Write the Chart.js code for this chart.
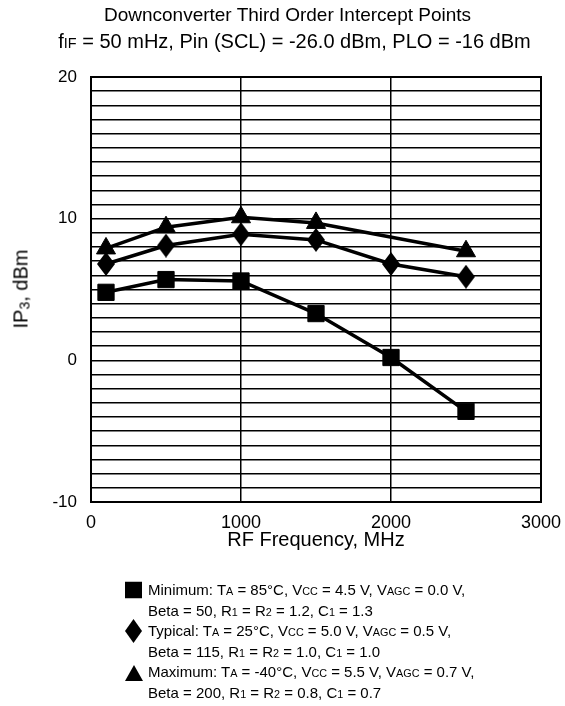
<!DOCTYPE html>
<html>
<head>
<meta charset="utf-8">
<script src="https://cdn.jsdelivr.net/npm/chart.js@4"></script>
<style>
  html, body { margin: 0; padding: 0; background: #fff; }
  body { width: 565px; height: 706px; overflow: hidden; }
  #wrap { position: relative; width: 565px; height: 706px; font-family: "Liberation Sans", Arial, Helvetica, sans-serif; color: #000; }
  #chart { position: absolute; left: 0; top: 0; }
  .title { position: absolute; left: 0; width: 565px; text-align: center; white-space: nowrap; line-height: 1; }
  .sc { font-size: 0.72em; }
  #ytitle { position: absolute; left: 21px; top: 289px; transform: translate(-50%, -50%) rotate(-90deg); font-size: 20px; white-space: nowrap; color: #000; }
  #ytitle sub { font-size: 0.7em; vertical-align: -0.15em; line-height: 0; }
  #legend { position: absolute; left: 125px; top: 580px; font-size: 15px; }
  .row { position: relative; height: 20.6px; line-height: 20.6px; padding-left: 23px; white-space: nowrap; }
  .row svg { position: absolute; left: 0; top: 50%; transform: translateY(-50%); }
</style>
</head>
<body>
<div id="wrap">
  <canvas id="chart" width="565" height="706"></canvas>
  <div class="title" style="top: 5px; left: 5px; font-size: 19px;">Downconverter Third Order Intercept Points</div>
  <div class="title" style="top: 31px; left: 12px; font-size: 20px;">f<span class="sc">IF</span> = 50 mHz, Pin (SCL) = -26.0 dBm, PLO = -16 dBm</div>
  <div id="ytitle">IP<sub>3</sub>, dBm</div>
  <div id="legend">
    <div class="row"><svg width="17" height="17" viewBox="0 0 17 17"><rect x="0" y="0" width="17" height="17" fill="#000"/></svg>Minimum: T<span class="sc">A</span> = 85°C, V<span class="sc">CC</span> = 4.5 V, V<span class="sc">AGC</span> = 0.0 V,</div>
    <div class="row">Beta = 50, R<span class="sc">1</span> = R<span class="sc">2</span> = 1.2, C<span class="sc">1</span> = 1.3</div>
    <div class="row"><svg width="17" height="24" viewBox="0 0 17 24"><polygon points="8.5,0 17,12 8.5,24 0,12" fill="#000"/></svg>Typical: T<span class="sc">A</span> = 25°C, V<span class="sc">CC</span> = 5.0 V, V<span class="sc">AGC</span> = 0.5 V,</div>
    <div class="row">Beta = 115, R<span class="sc">1</span> = R<span class="sc">2</span> = 1.0, C<span class="sc">1</span> = 1.0</div>
    <div class="row"><svg width="18" height="16" viewBox="0 0 18 16"><polygon points="9,0 18,16 0,16" fill="#000"/></svg>Maximum: T<span class="sc">A</span> = -40°C, V<span class="sc">CC</span> = 5.5 V, V<span class="sc">AGC</span> = 0.7 V,</div>
    <div class="row">Beta = 200, R<span class="sc">1</span> = R<span class="sc">2</span> = 0.8, C<span class="sc">1</span> = 0.7</div>
  </div>
</div>
<script>
// RF frequencies at which IP3 was measured (MHz)
const freqMHz = [100, 500, 1000, 1500, 2000, 2500];
// Third order intercept point, dBm, for the three bias/temperature corners
const ip3Minimum = [4.8, 5.7, 5.6, 3.3, 0.2, -3.6];
const ip3Typical = [6.8, 8.1, 8.9, 8.5, 6.8, 5.9];
const ip3Maximum = [7.9, 9.4, 10.1, 9.7, null, 7.7]; // no reading at 2000 MHz

// Axis ranges and labelled ticks
const xTicks = [0, 1000, 2000, 3000];
const yTicks = [-10, 0, 10, 20];

const FONT = '"Liberation Sans", Arial, Helvetica, sans-serif';

function toPoints(values) {
  return freqMHz.map((f, i) => ({ x: f, y: values[i] }));
}

// Tall diamond marker used for the "Typical" series
function diamondMarker(w, h) {
  const c = document.createElement('canvas');
  c.width = w; c.height = h;
  const g = c.getContext('2d');
  g.fillStyle = '#000';
  g.beginPath();
  g.moveTo(w / 2, 0); g.lineTo(w, h / 2); g.lineTo(w / 2, h); g.lineTo(0, h / 2);
  g.closePath();
  g.fill();
  return c;
}

// Frame around the plot area
const frame = {
  id: 'frame',
  afterDraw(chart) {
    const { ctx, chartArea: a } = chart;
    ctx.save();
    ctx.strokeStyle = '#000';
    ctx.lineWidth = 2;
    ctx.strokeRect(a.left, a.top, a.right - a.left, a.bottom - a.top);
    ctx.restore();
  }
};

const common = {
  borderColor: '#000',
  backgroundColor: '#000',
  pointBackgroundColor: '#000',
  pointBorderColor: '#000',
  borderWidth: 3.5,
  pointBorderWidth: 1,
  tension: 0,
  spanGaps: true,
  fill: false
};

new Chart(document.getElementById('chart'), {
  type: 'line',
  data: {
    datasets: [
      Object.assign({ label: 'Minimum', data: toPoints(ip3Minimum), pointStyle: 'rect', pointRadius: 11.5 }, common),
      Object.assign({ label: 'Typical', data: toPoints(ip3Typical), pointStyle: diamondMarker(18, 24), pointRadius: 9 }, common),
      Object.assign({ label: 'Maximum', data: toPoints(ip3Maximum), pointStyle: 'triangle', pointRadius: 11 }, common)
    ]
  },
  options: {
    responsive: false,
    animation: false,
    events: [],
    layout: { padding: { left: 0, top: 77, right: 24, bottom: 154 } },
    plugins: { legend: { display: false }, title: { display: false }, tooltip: { enabled: false } },
    scales: {
      x: {
        type: 'linear',
        min: xTicks[0],
        max: xTicks[xTicks.length - 1],
        afterBuildTicks: s => { s.ticks = xTicks.map(v => ({ value: v })); },
        afterFit: s => { s.height = 50; s.paddingLeft = 0; s.paddingRight = 0; },
        border: { display: false },
        grid: { color: '#000', lineWidth: 1.5, drawTicks: false },
        ticks: { color: '#000', padding: 10, font: { family: FONT, size: 18 }, callback: v => String(v), maxRotation: 0 },
        title: { display: true, text: 'RF Frequency, MHz', color: '#000', font: { family: FONT, size: 20 }, padding: 0 }
      },
      y: {
        type: 'linear',
        min: yTicks[0],
        max: yTicks[yTicks.length - 1],
        afterBuildTicks: s => {
          const t = [];
          for (let v = yTicks[0]; v <= yTicks[yTicks.length - 1]; v++) t.push({ value: v });
          s.ticks = t;
        },
        afterFit: s => { s.width = 91; s.paddingTop = 0; s.paddingBottom = 0; },
        border: { display: false },
        grid: { color: '#000', lineWidth: 1.5, drawTicks: false },
        ticks: { color: '#000', padding: 14, autoSkip: false, font: { family: FONT, size: 17 }, callback: v => (yTicks.includes(v) ? String(v) : '') }
      }
    }
  },
  plugins: [frame]
});
</script>
</body>
</html>
